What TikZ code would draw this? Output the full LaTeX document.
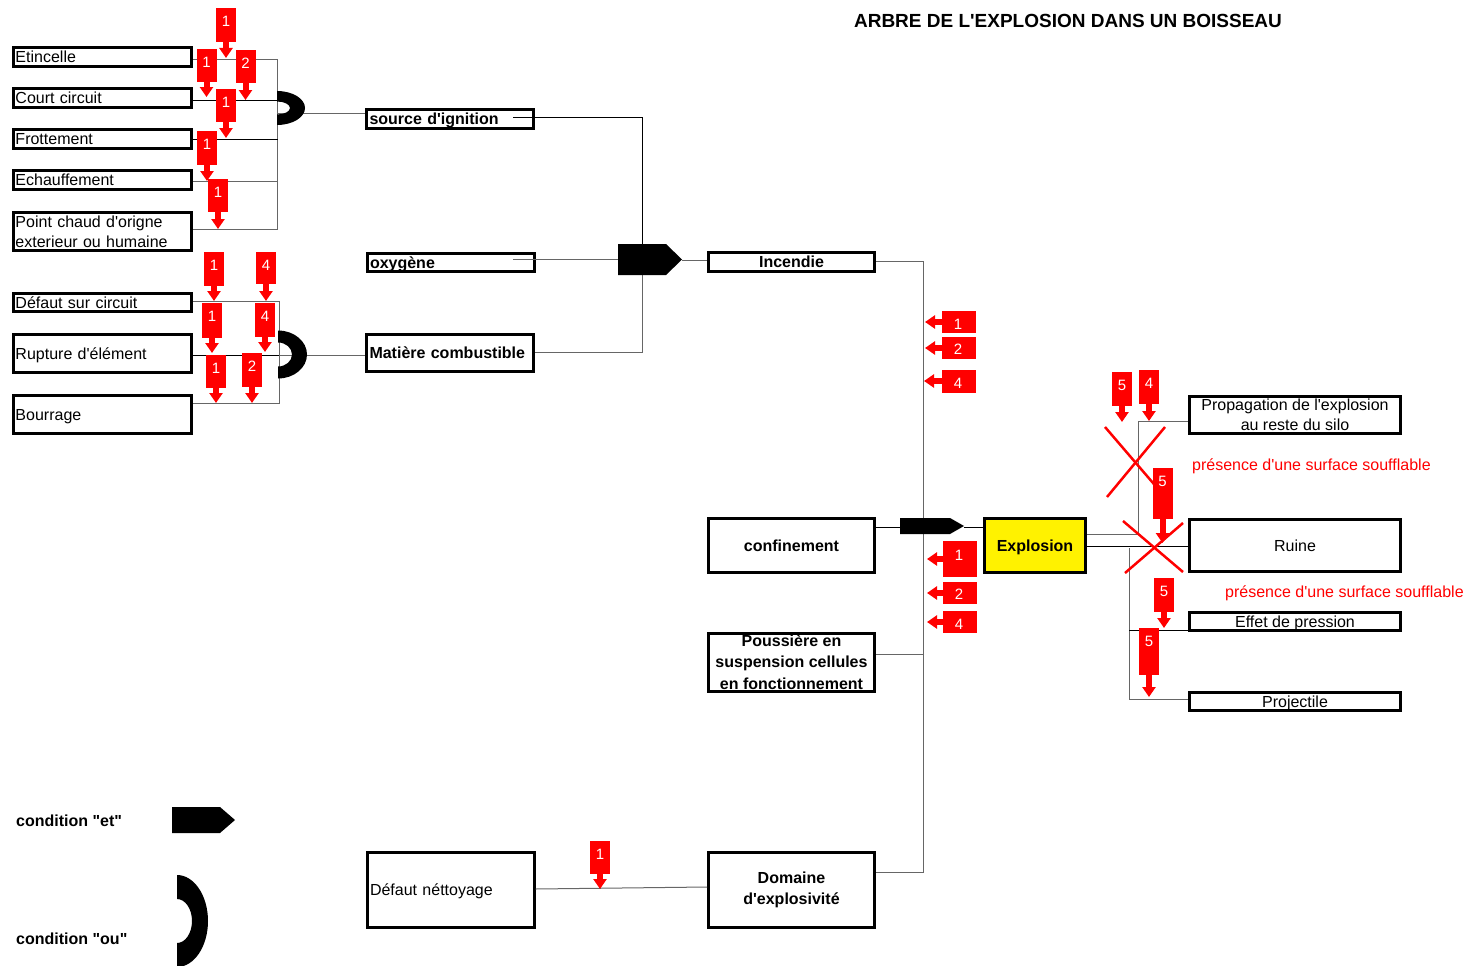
\documentclass[tikz,border=0pt]{standalone}
\usepackage{fontspec}
\setmainfont{Liberation Sans}
\usetikzlibrary{arrows.meta}
\newcommand\fsn{\fontsize{16}{20}\selectfont}
\newcommand\fsbold{\fontsize{16}{20}\selectfont\bfseries}
\newcommand\ap{\textquotesingle}
\newcommand\orgate[6]{\fill (#1,#2-#4) arc[start angle=90,end angle=-90,x radius=#3pt,y radius=#4pt] -- (#1,#2+#6) arc[start angle=-90,end angle=90,x radius=#5pt,y radius=#6pt] -- cycle;}
% down marker: name, x, ytop, ybot, ytip, number
\newcommand\dmark[6]{%
  \node[rbox, minimum height={#4-#3}, anchor=north] (#1) at (#2,#3) {};
  \node[rnum] at ([yshift=-13.5pt]#1.north) {#6};
  \coordinate (#1t) at (#2,#5);
  \draw[rarrow] (#1.south) -- (#1t);}
% left marker: name, xleft, ytop, ybot, xtip, ytip, ynum, number
\newcommand\lmark[8]{%
  \node[rbox, minimum width=34pt, minimum height={#4-#3}, anchor=north west] (#1) at (#2,#3) {};
  \node[rnum] at (#2+16,#7) {#8};
  \coordinate (#1t) at (#5,#6);
  \draw[rarrow] (#1.west |- #1t) -- (#1t);}
\begin{document}
\begin{tikzpicture}[x=1pt,y=-1pt,
  box/.style={draw=black, line width=3pt, inner xsep=2pt, inner ysep=0pt, font=\fsn},
  one/.style={text height=11.5pt, text depth=0pt},
  lbox/.style={box, text width=174pt, align=left, minimum height=#1},
  mbox/.style={box, inner xsep=3pt, text width=161pt, align=left, minimum height=#1},
  cbox/.style={box, align=center},
  conn/.style={draw=black!60, line width=1pt},
  connk/.style={draw=black, line width=1pt},
  gate/.style={fill=black},
  rbox/.style={fill=red, inner sep=0pt, minimum width=20pt},
  rnum/.style={text=white, font=\fontsize{15}{15}\selectfont, inner sep=0pt},
  rarrow/.style={draw=red, line width=6pt, -{Triangle[width=13pt,length=10pt]}},
  cross/.style={draw=red, line width=2.5pt},
  rtext/.style={text=red, font=\fsn, anchor=west, inner sep=0pt},
  legend/.style={font=\fsbold, anchor=west, inner sep=0pt}]
\useasboundingbox (0,0) rectangle (1472,966);

% title
\node[font=\fontsize{19}{23}\selectfont\bfseries, inner sep=0pt] (title) at (1068,21) {ARBRE DE L\ap EXPLOSION DANS UN BOISSEAU};

% left boxes
\node[lbox=19pt, one] (etin) at (102.5,57) {Etincelle};
\node[lbox=19pt, one] (court) at (102.5,98) {Court circuit};
\node[lbox=19pt, one] (frot) at (102.5,139) {Frottement};
\node[lbox=19pt, one] (echauf) at (102.5,180) {Echauffement};
\node[lbox=38pt] (point) at (102.5,231.5) {Point chaud d\ap origne\\exterieur ou humaine};
\node[lbox=18pt, one] (defcirc) at (102.5,302.5) {Défaut sur circuit};
\node[lbox=38pt, one] (rupture) at (102.5,353.5) {Rupture d\ap élément};
\node[lbox=38pt, one] (bourrage) at (102.5,414.5) {Bourrage};

% middle boxes
\node[mbox=19pt, one, font=\fsbold] (src) at (450,119) {source d\ap ignition};
\node[mbox=18pt, one, font=\fsbold] (oxy) at (450.5,262.5) {oxygène};
\node[mbox=37pt, one, font=\fsbold] (mat) at (450,353) {Matière combustible};
\node[mbox=75pt, one] (defnet) at (450.5,890) {Défaut néttoyage};

% right column
\node[cbox, one, font=\fsbold, minimum width=166pt, minimum height=19pt] (incendie) at (791.5,262) {Incendie};
\node[cbox, one, font=\fsbold, minimum width=166pt, minimum height=54pt] (conf) at (791.5,545.5) {confinement};
\node[cbox, font=\fontsize{16}{21.5}\selectfont\bfseries, minimum width=166pt, minimum height=58pt] (pouss) at (791.5,662) {Poussière en\\suspension cellules\\en fonctionnement};
\node[cbox, font=\fontsize{16}{21}\selectfont\bfseries, minimum width=166pt, minimum height=75pt] (domaine) at (791.5,890) {Domaine\\d\ap explosivité};
\node[cbox, one, font=\fsbold, fill=yellow, minimum width=101pt, minimum height=54pt] (explosion) at (1035,545.5) {Explosion};
\node[cbox, minimum width=211pt, minimum height=37pt] (prop) at (1295,414.5) {Propagation de l\ap explosion\\au reste du silo};
\node[cbox, one, minimum width=211pt, minimum height=52pt] (ruine) at (1295,545.5) {Ruine};
\node[cbox, one, minimum width=211pt, minimum height=18pt] (effet) at (1295,621.5) {Effet de pression};
\node[cbox, one, minimum width=211pt, minimum height=18pt] (proj) at (1295,701.5) {Projectile};

% red texts
\node[rtext] (pres1) at (1192,466) {présence d\ap une surface soufflable};
\node[rtext] (pres2) at (1225,593) {présence d\ap une surface soufflable};

% legend
\node[legend] (leget) at (16,821) {condition \textquotedbl et\textquotedbl};
\node[legend] (legou) at (16,939) {condition \textquotedbl ou\textquotedbl};

% ---- connectors, first OR group
\coordinate (b1top) at (277.5,60);
\coordinate (b1bot) at (277.5,229);
\coordinate (b1c) at (277.5,100);
\coordinate (b1f) at (277.5,139);
\coordinate (b1e) at (277.5,181);
\draw[conn] (etin.east |- b1top) -- (b1top) -- (b1bot) -- (point.east |- b1bot);
\draw[connk] (court.east |- b1c) -- (b1c);
\draw[connk] (frot.east |- b1f) -- (b1f);
\draw[conn] (echauf.east |- b1e) -- (b1e);
\coordinate (or1out) at (277,113);
\draw[conn] (or1out) -- (or1out -| src.west);

% second OR group
\coordinate (b2top) at (279,301);
\coordinate (b2bot) at (279,403);
\coordinate (b2r) at (279,355);
\draw[conn] (defcirc.east |- b2top) -- (b2top) -- (b2bot) -- (bourrage.east |- b2bot);
\draw[connk] (rupture.east |- b2r) -- (b2r);
\draw[conn] (b2r) -- (b2r -| mat.west);

% to first AND
\coordinate (srcin) at (513,117);
\coordinate (and1top) at (642,244);
\coordinate (oxyin) at (513,259.5);
\coordinate (and1in) at (618,259.5);
\coordinate (and1bot) at (642,275);
\coordinate (matr) at (642,352);
\coordinate (and1out) at (682,260);
\draw[connk] (srcin) -| (and1top);
\draw[conn] (oxyin) -- (and1in);
\draw[conn] (mat.east |- matr) -- (matr) -- (and1bot);
\draw[conn] (and1out) -- (and1out -| incendie.west);

% main bus
\coordinate (bus2top) at (923,261);
\coordinate (bus2bot) at (923,872);
\coordinate (bus2p) at (923,654);
\coordinate (and2in) at (900,527);
\coordinate (and2out) at (964,527);
\draw[conn] (incendie.east |- bus2top) -- (bus2top) -- (bus2bot) -- (domaine.east |- bus2bot);
\draw[conn] (pouss.east |- bus2p) -- (bus2p);
\draw[connk] (conf.east |- and2in) -- (and2in);
\draw[connk] (and2out) -- (and2out -| explosion.west);
\draw[conn] ([yshift=1pt]defnet.east) -- ([yshift=3pt]domaine.west);

% right side
\coordinate (e1) at (1138,534);
\coordinate (e2) at (1138,421);
\coordinate (e3) at (1129,546);
\coordinate (e4) at (1129,548);
\coordinate (e5) at (1129,699);
\coordinate (e6) at (1129,630);
\draw[conn] (explosion.east |- e1) -- (e1) -- (e2) -- (e2 -| prop.west);
\draw[connk] (explosion.east |- e3) -- (e3 -| ruine.west);
\draw[conn] (e4) -- (e5) -- (e5 -| proj.west);
\draw[connk] (e6) -- (e6 -| effet.west);

% gates
\fill[gate] (618,244) -- (666,244) -- (682,259.5) -- (666,275) -- (618,275) -- cycle;
\fill[gate] (900,518) -- (950,518) -- (964,526) -- (950,534) -- (900,534) -- cycle;
\fill[gate] (172,807) -- (220,807) -- (235,820) -- (220,833) -- (172,833) -- cycle;
\orgate{277}{108}{28}{17}{13}{6.5}
\orgate{278}{354.5}{29}{24}{14}{12}
\orgate{177}{921}{31}{46}{15}{22}

% red crosses
\draw[cross] (1105,427) -- (1165,497);
\draw[cross] (1165,427) -- (1107,497);
\draw[cross] (1123,521) -- (1183,572);
\draw[cross] (1183,523) -- (1125,573);

% down markers
\dmark{ma}{226}{8}{42}{58}{1}
\dmark{mb}{206.5}{49}{82}{97}{1}
\dmark{mc}{245.5}{50}{83}{100}{2}
\dmark{md}{226}{89}{122}{138}{1}
\dmark{me}{207}{131}{165}{181}{1}
\dmark{mf}{218}{179}{212}{229}{1}
\dmark{mg}{214}{252}{286}{301}{1}
\dmark{mh}{266}{252}{284}{301}{4}
\dmark{mi}{212}{303}{338}{353}{1}
\dmark{mj}{265}{303}{337}{352}{4}
\dmark{mk}{216}{355}{388}{403}{1}
\dmark{ml}{252}{353}{387}{403}{2}
\dmark{mm}{1122}{372}{406}{422}{5}
\dmark{mn}{1149}{370}{404}{421}{4}
\dmark{mo}{1162.5}{468}{519}{543}{5}
\dmark{mp}{1164}{578}{612}{628}{5}
\dmark{mq}{1149}{628}{675}{697}{5}
\dmark{mr}{600}{841}{874}{889}{1}

% left markers
\lmark{la}{942}{311}{333}{925}{322}{324}{1}
\lmark{lb}{942}{337}{359}{925}{348}{349}{2}
\lmark{lc}{942}{370}{393}{924}{381}{383}{4}
\lmark{ld}{943}{541}{577}{927}{559}{555}{1}
\lmark{le}{943}{582}{604}{927}{593}{594}{2}
\lmark{lf}{943}{611}{633}{927}{622}{624}{4}
\end{tikzpicture}
\end{document}
